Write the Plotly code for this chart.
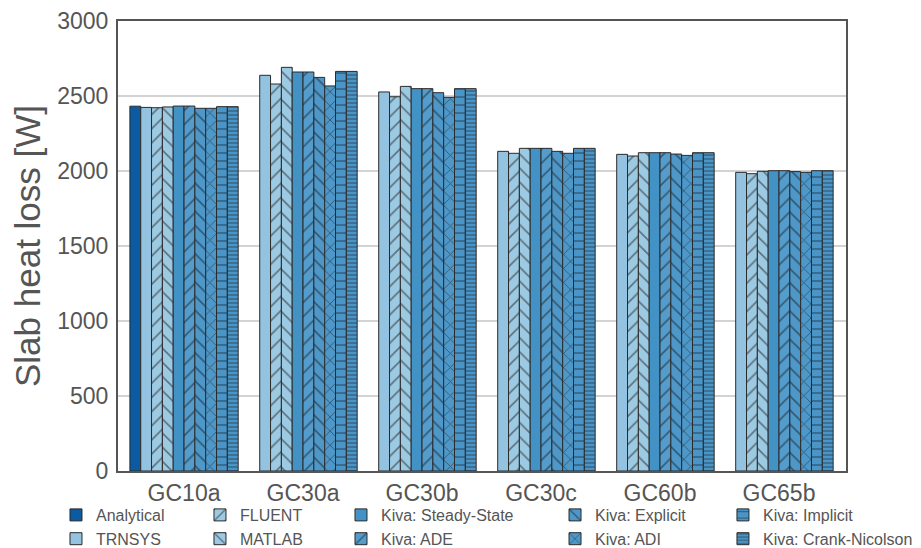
import plotly.graph_objects as go

categories = ["GC10a", "GC30a", "GC30b", "GC30c", "GC60b", "GC65b"]

analytical = [2432, None, None, None, None, None]
trnsys = [2424, 2638, 2527, 2131, 2111, 1991]
fluent = [2422, 2580, 2495, 2118, 2100, 1982]
matlab = [2427, 2691, 2564, 2151, 2122, 1998]
kiva_ss = [2433, 2660, 2549, 2151, 2122, 2002]
kiva_ade = [2433, 2660, 2549, 2151, 2122, 2002]
kiva_explicit = [2418, 2624, 2522, 2131, 2113, 1996]
kiva_adi = [2418, 2567, 2491, 2118, 2104, 1991]
kiva_implicit = [2429, 2664, 2549, 2151, 2122, 2002]
kiva_cn = [2429, 2664, 2549, 2151, 2122, 2002]

y_ticks = [0, 500, 1000, 1500, 2000, 2500, 3000]

series = [
    ("Analytical", analytical, "#0b5aa2", "", 8, 0.1, "legend"),
    ("TRNSYS", trnsys, "#93c3e0", "", 8, 0.1, "legend"),
    ("FLUENT", fluent, "#9dcae3", "/", 10, 0.17, "legend2"),
    ("MATLAB", matlab, "#9dcae3", "\\", 10, 0.17, "legend2"),
    ("Kiva: Steady-State", kiva_ss, "#4292c6", "", 8, 0.1, "legend3"),
    ("Kiva: ADE", kiva_ade, "#539ccc", "/", 10, 0.17, "legend3"),
    ("Kiva: Explicit", kiva_explicit, "#4d97c9", "\\", 10, 0.17, "legend4"),
    ("Kiva: ADI", kiva_adi, "#4d97c9", "x", 10, 0.17, "legend4"),
    ("Kiva: Implicit", kiva_implicit, "#4a95c8", "-", 8, 0.17, "legend5"),
    ("Kiva: Crank-Nicolson", kiva_cn, "#4a95c8", "-", 4, 0.3, "legend5"),
]

fig = go.Figure()
for name, vals, color, shape, size, sol, leg in series:
    marker = dict(color=color, line=dict(color="#2a2a2a", width=1))
    if shape:
        marker["pattern"] = dict(shape=shape, fgcolor="#1a1a1a", bgcolor=color,
                                 size=size, solidity=sol, fillmode="overlay")
    fig.add_trace(go.Bar(name=name, x=categories, y=vals, marker=marker, legend=leg))

font_family = "Liberation Sans, Arial, sans-serif"
leg_common = dict(orientation="v", xanchor="left", yanchor="top",
                  font=dict(family=font_family, size=16, color="#555555"),
                  bgcolor="rgba(0,0,0,0)", tracegroupgap=0, itemwidth=30)
ly = -0.06
fig.update_layout(
    width=913, height=540,
    margin=dict(l=110, r=75, t=13, b=77, autoexpand=False),
    paper_bgcolor="white", plot_bgcolor="white",
    barmode="group", bargap=0.09, bargroupgap=0,
    font=dict(family=font_family, color="#555555"),
    legend=dict(x=-0.0852, y=ly, **leg_common),
    legend2=dict(x=0.1126, y=ly, **leg_common),
    legend3=dict(x=0.3063, y=ly, **leg_common),
    legend4=dict(x=0.6003, y=ly, **leg_common),
    legend5=dict(x=0.831, y=ly, **leg_common),
    xaxis=dict(range=[-0.555, 5.563], showline=True, mirror=True, linecolor="#555555",
               linewidth=2, showgrid=False, ticks="",
               tickfont=dict(size=23, color="#555555")),
    yaxis=dict(range=[0, 3000], tickvals=y_ticks, showline=True, mirror=True,
               linecolor="#555555", linewidth=2, showgrid=True, gridcolor="#d3d3d3",
               gridwidth=1.5, ticks="", zeroline=False, ticklabelstandoff=3,
               tickfont=dict(size=23, color="#555555"),
               title=dict(text="Slab heat loss [W]", font=dict(size=35, color="#555555"),
                          standoff=6)),
)

fig.write_html("out.html")
